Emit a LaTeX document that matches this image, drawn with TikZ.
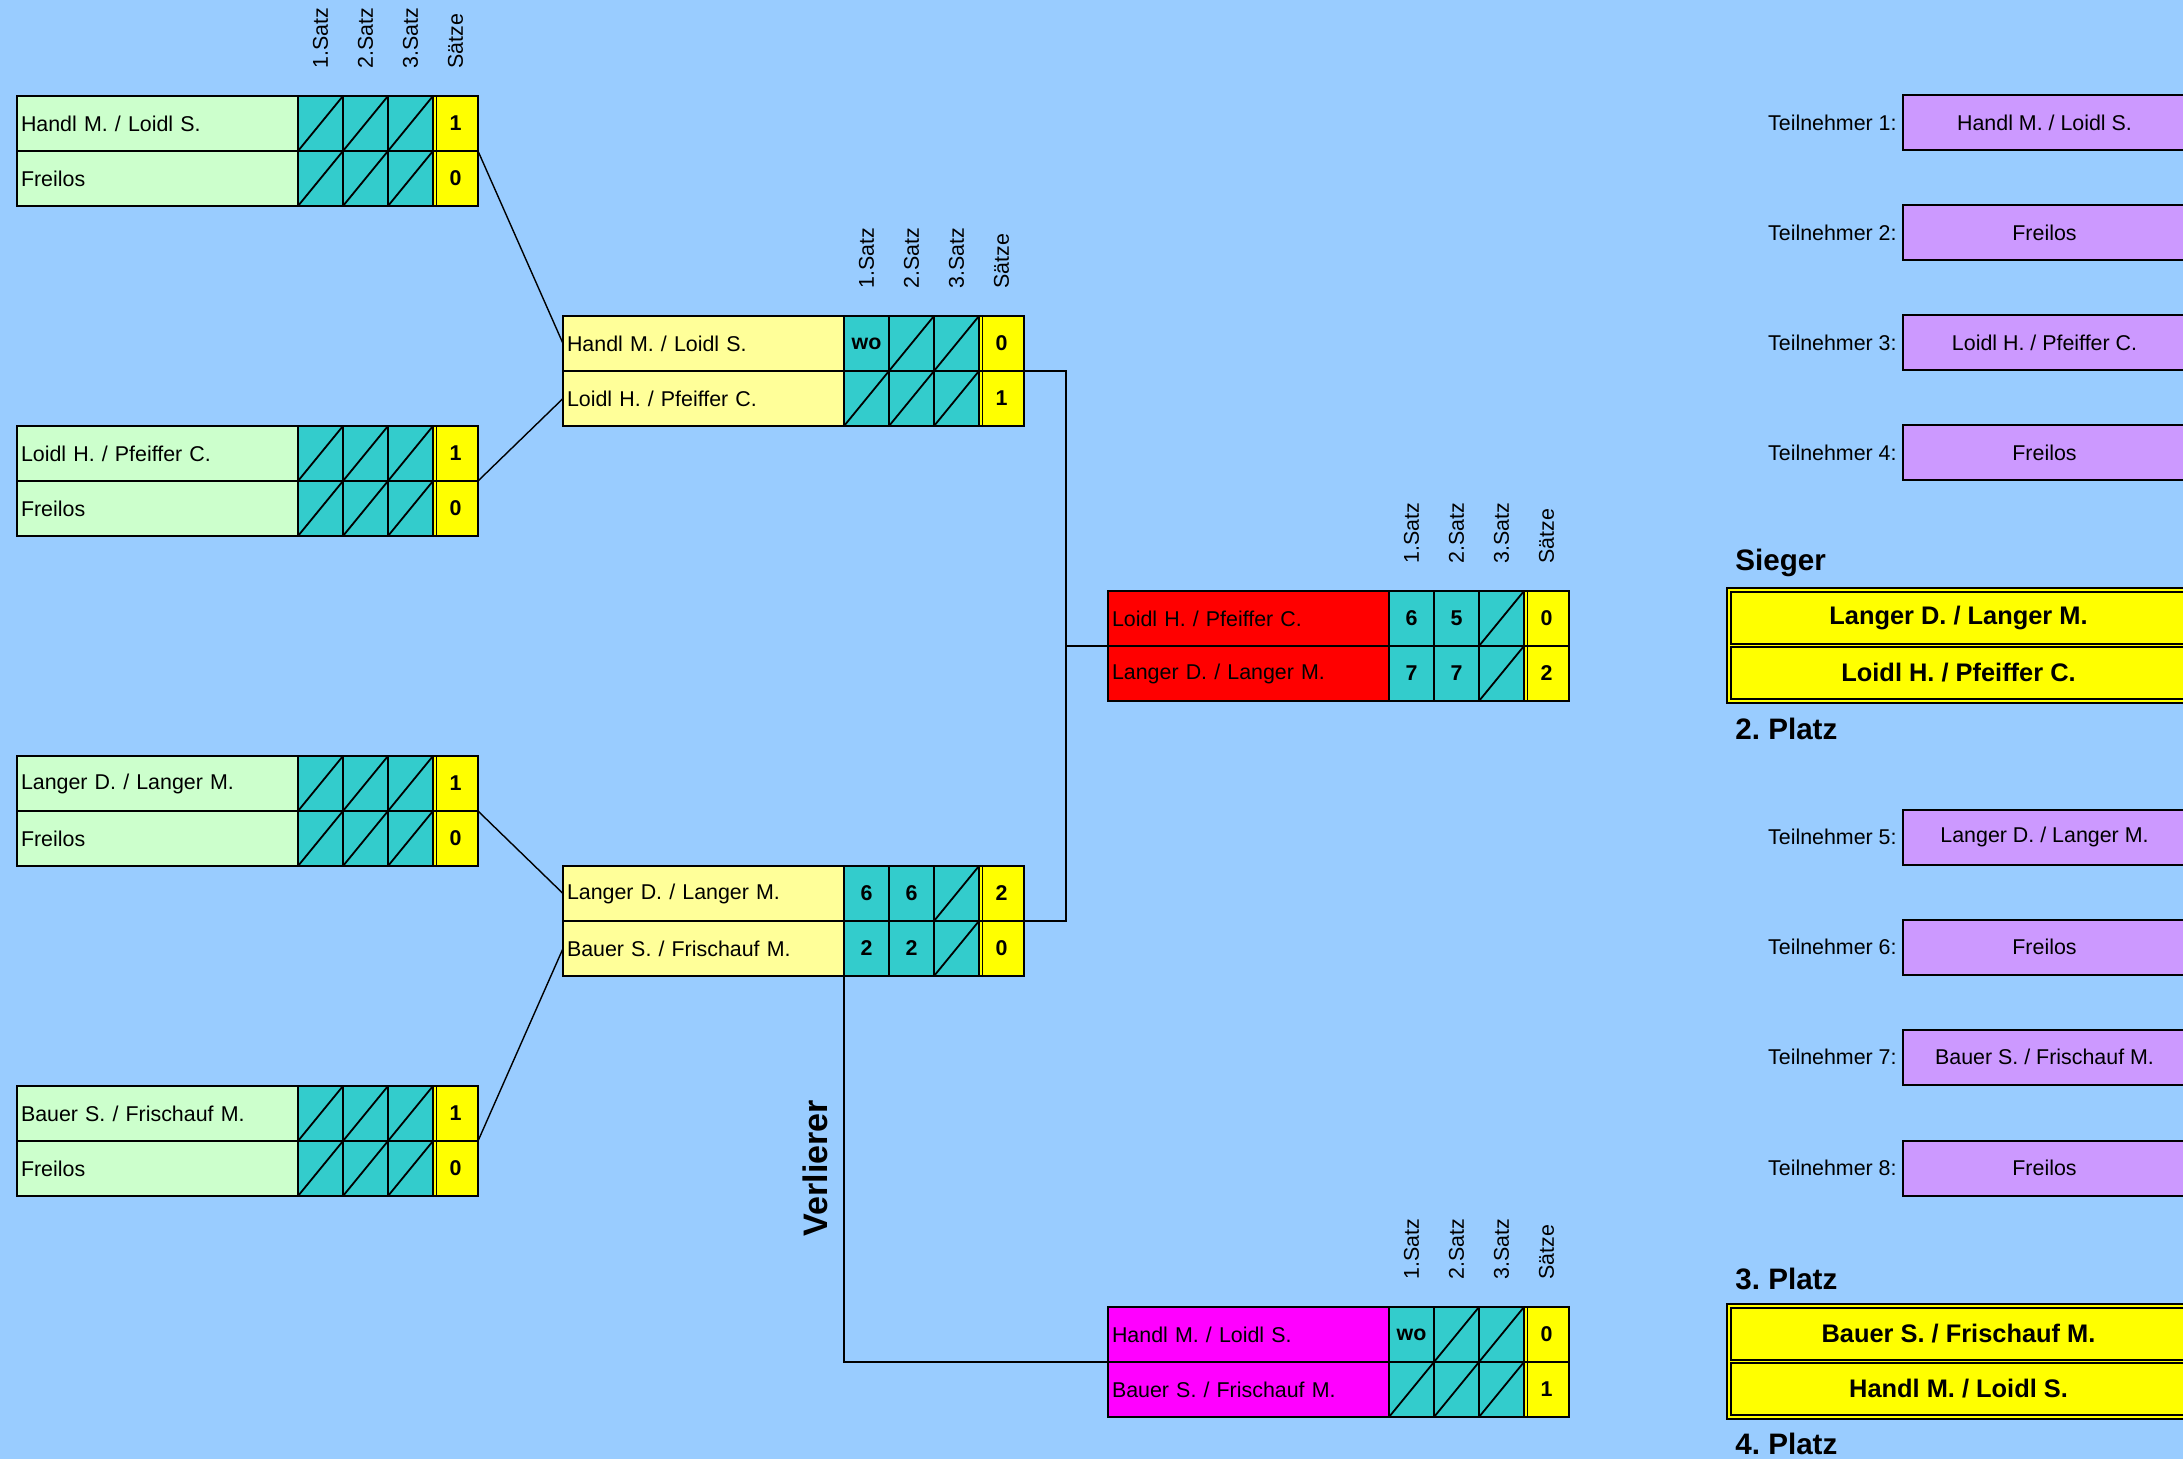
\documentclass[tikz,border=0pt]{standalone}
\usepackage{fontspec}
\setmainfont{Liberation Sans}
\usetikzlibrary{positioning}
\frenchspacing

\definecolor{himmel}{HTML}{99CCFF}
\definecolor{mint}{HTML}{CCFFCC}
\definecolor{tuerkis}{HTML}{33CCCC}
\definecolor{gelb}{HTML}{FFFF00}
\definecolor{hellgelb}{HTML}{FFFF99}
\definecolor{rot}{HTML}{FF0000}
\definecolor{pink}{HTML}{FF00FF}
\definecolor{lila}{HTML}{CC99FF}

\tikzstyle{team} = [rectangle, draw=black, line width=0.6pt, minimum width=140.5pt,
minimum height=27.5pt, text width=136.5pt, inner xsep=2pt, inner ysep=0pt, outer sep=0pt,
align=left, font=\fontsize{10.7}{12}\selectfont]
\tikzstyle{zelle} = [rectangle, draw=black, line width=0.6pt, minimum width=22.5pt,
minimum height=27.5pt, inner sep=0pt, outer sep=0pt, fill=tuerkis,
font=\bfseries\fontsize{10.7}{12}\selectfont]
\tikzstyle{leer} = [zelle, path picture={\draw[line width=0.9pt]
(path picture bounding box.south west) -- (path picture bounding box.north east);}]
\tikzstyle{summe} = [zelle, fill=gelb, path picture={\draw[line width=0.6pt]
([xshift=1.6pt]path picture bounding box.south west) -- ([xshift=1.6pt]path picture bounding box.north west);}]
\tikzstyle{kopf} = [rotate=90, anchor=west, inner sep=0pt, font=\fontsize{10.7}{12}\selectfont]
\tikzstyle{rahmen} = [draw=black, line width=1.4pt]
\tikzstyle{linie} = [draw=black, line width=0.7pt]
\tikzstyle{teil} = [rectangle, draw=black, line width=1pt, fill=lila, minimum width=141.5pt,
minimum height=27.5pt, inner sep=0pt, font=\fontsize{10.7}{12}\selectfont]
\tikzstyle{marke} = [inner sep=0pt, font=\fontsize{10.7}{12}\selectfont]
\tikzstyle{platz} = [rectangle, draw=black, line width=0.9pt, fill=gelb, minimum width=227.5pt,
minimum height=26pt, inner sep=0pt, font=\bfseries\fontsize{12.7}{14}\selectfont]
\tikzstyle{titel} = [anchor=west, inner sep=0pt, font=\bfseries\fontsize{14.8}{16}\selectfont]

% #1 Spiel, #2 Ecke oben links, #3 Farbe, #4/#5 Paare, #6/#7 Ergebnisse
\newcommand{\spiel}[7]{
  \node (#1a) [team, fill=#3, anchor=north west] at (#2) {#4};
  \node (#1b) [team, fill=#3, below=0pt of #1a] {#5};
  \foreach \s/\v [count=\i] in {#6}
    \node (#1a\i) [\s, anchor=west] at ([xshift={(\i-1)*22.5pt}]#1a.east) {\v};
  \foreach \s/\v [count=\i] in {#7}
    \node (#1b\i) [\s, anchor=west] at ([xshift={(\i-1)*22.5pt}]#1b.east) {\v};
  \draw [rahmen] (#1a.north west) rectangle (#1b4.south east);
}
% Spaltenkoepfe ueber einem Spiel
\newcommand{\kopfzeile}[1]{
  \foreach \t [count=\i] in {1.Satz,2.Satz,3.Satz,Sätze}
    \node (#1k\i) [kopf] at ([yshift=13.5pt]#1a\i.north) {\t};
}

\begin{document}
\begin{tikzpicture}[x=0.5pt, y=-0.5pt]
  \useasboundingbox (0,0) rectangle (2183,1459);
  \fill [himmel] (0,0) rectangle (2183,1459);

  % Vorrunde
  \spiel{v1}{17,96}{mint}{Handl M. / Loidl S.}{Freilos}{leer/,leer/,leer/,summe/1}{leer/,leer/,leer/,summe/0}
  \spiel{v2}{17,426}{mint}{Loidl H. / Pfeiffer C.}{Freilos}{leer/,leer/,leer/,summe/1}{leer/,leer/,leer/,summe/0}
  \spiel{v3}{17,756}{mint}{Langer D. / Langer M.}{Freilos}{leer/,leer/,leer/,summe/1}{leer/,leer/,leer/,summe/0}
  \spiel{v4}{17,1086}{mint}{Bauer S. / Frischauf M.}{Freilos}{leer/,leer/,leer/,summe/1}{leer/,leer/,leer/,summe/0}
  \kopfzeile{v1}

  % Halbfinale
  \spiel{h1}{563,316}{hellgelb}{Handl M. / Loidl S.}{Loidl H. / Pfeiffer C.}{zelle/wo,leer/,leer/,summe/0}{leer/,leer/,leer/,summe/1}
  \spiel{h2}{563,866}{hellgelb}{Langer D. / Langer M.}{Bauer S. / Frischauf M.}{zelle/6,zelle/6,leer/,summe/2}{zelle/2,zelle/2,leer/,summe/0}
  \kopfzeile{h1}

  % Finale und Spiel um Platz 3
  \spiel{fin}{1108,591}{rot}{Loidl H. / Pfeiffer C.}{Langer D. / Langer M.}{zelle/6,zelle/5,leer/,summe/0}{zelle/7,zelle/7,leer/,summe/2}
  \spiel{p3}{1108,1307}{pink}{Handl M. / Loidl S.}{Bauer S. / Frischauf M.}{zelle/wo,leer/,leer/,summe/0}{leer/,leer/,leer/,summe/1}
  \kopfzeile{fin}
  \kopfzeile{p3}

  \draw [linie] (v1a4.south east) -- (h1a.west);
  \draw [linie] (v2a4.south east) -- (h1b.west);
  \draw [linie] (v3a4.south east) -- (h2a.west);
  \draw [linie] (v4a4.south east) -- (h2b.west);

  \coordinate (knick) at (1066,646);
  \draw [linie] (h1a4.south east) -| (knick) |- (h2a4.south east);
  \draw [linie] (knick) -- (fina.south west);
  \draw [linie] (h2b.south east) |- (p3a.south west);
  \node (verl) [rotate=90, font=\bfseries\fontsize{17}{20}\selectfont] at (815,1168) {Verlierer};

  % Teilnehmer
  \node (t1) [teil] at (2044.5,123) {Handl M. / Loidl S.};
  \node (t2) [teil] at (2044.5,233) {Freilos};
  \node (t3) [teil] at (2044.5,343) {Loidl H. / Pfeiffer C.};
  \node (t4) [teil] at (2044.5,453) {Freilos};
  \node (t5) [teil] at (2044.5,837) {Langer D. / Langer M.};
  \node (t6) [teil] at (2044.5,947) {Freilos};
  \node (t7) [teil] at (2044.5,1057) {Bauer S. / Frischauf M.};
  \node (t8) [teil] at (2044.5,1168) {Freilos};
  \node (l1) [marke, left=2.5pt of t1] {Teilnehmer 1:};
  \node (l2) [marke, left=2.5pt of t2] {Teilnehmer 2:};
  \node (l3) [marke, left=2.5pt of t3] {Teilnehmer 3:};
  \node (l4) [marke, left=2.5pt of t4] {Teilnehmer 4:};
  \node (l5) [marke, left=2.5pt of t5] {Teilnehmer 5:};
  \node (l6) [marke, left=2.5pt of t6] {Teilnehmer 6:};
  \node (l7) [marke, left=2.5pt of t7] {Teilnehmer 7:};
  \node (l8) [marke, left=2.5pt of t8] {Teilnehmer 8:};

  % Platzierung
  \node (sieger) [titel] at (1735,563) {Sieger};
  \draw [rahmen, fill=gelb] (1727,588) rectangle (2200,703);
  \node (s1) [platz] at (1958.5,618) {Langer D. / Langer M.};
  \node (s2) [platz] at (1958.5,673) {Loidl H. / Pfeiffer C.};
  \node (zweiter) [titel] at (1735,729) {2. Platz};

  \node (dritter) [titel] at (1735,1279) {3. Platz};
  \draw [rahmen, fill=gelb] (1727,1304) rectangle (2200,1419);
  \node (s3) [platz] at (1958.5,1334) {Bauer S. / Frischauf M.};
  \node (s4) [platz] at (1958.5,1389) {Handl M. / Loidl S.};
  \node (vierter) [titel] at (1735,1444) {4. Platz};

\end{tikzpicture}
\end{document}
